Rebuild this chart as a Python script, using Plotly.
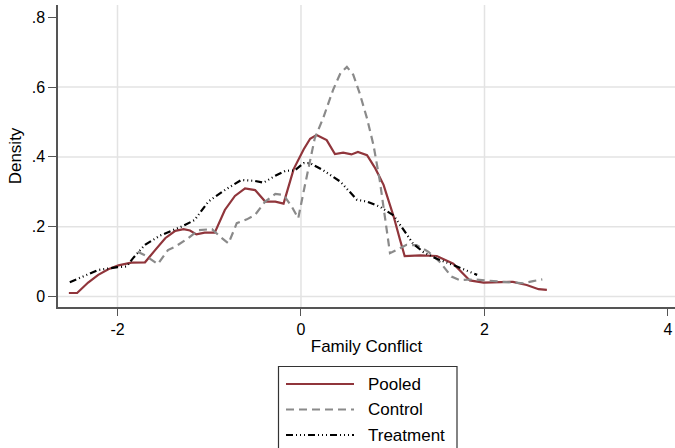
import plotly.graph_objects as go

# ---- data ----
pooled_x = [-2.53, -2.44, -2.32, -2.21, -2.10, -1.99, -1.85, -1.70, -1.59, -1.48, -1.37, -1.28,
            -1.21, -1.14, -1.05, -0.94, -0.83, -0.72, -0.61, -0.50, -0.39, -0.28, -0.19, -0.08,
            0.03, 0.10, 0.17, 0.28, 0.37, 0.46, 0.55, 0.62, 0.72, 0.81, 0.90, 1.01, 1.08, 1.13,
            1.30, 1.48, 1.66, 1.84, 1.99, 2.31, 2.46, 2.59, 2.68]
pooled_y = [0.010, 0.010, 0.040, 0.062, 0.078, 0.089, 0.097, 0.098, 0.133, 0.167, 0.188, 0.193,
            0.189, 0.178, 0.183, 0.183, 0.248, 0.288, 0.310, 0.305, 0.272, 0.272, 0.266, 0.365,
            0.422, 0.452, 0.463, 0.448, 0.408, 0.412, 0.407, 0.414, 0.405, 0.367, 0.320, 0.229,
            0.162, 0.116, 0.118, 0.116, 0.094, 0.046, 0.040, 0.042, 0.033, 0.021, 0.019]

control_x = [-1.78, -1.70, -1.56, -1.45, -1.37, -1.23, -1.12, -0.97, -0.88, -0.79, -0.70, -0.59,
             -0.50, -0.39, -0.28, -0.19, -0.10, -0.03, 0.04, 0.15, 0.24, 0.35, 0.43, 0.50, 0.57,
             0.64, 0.72, 0.79, 0.86, 0.92, 0.97, 1.04, 1.15, 1.26, 1.39, 1.51, 1.64, 1.73, 1.88,
             2.20, 2.42, 2.53, 2.63]
control_y = [0.128, 0.118, 0.093, 0.133, 0.143, 0.167, 0.190, 0.193, 0.171, 0.152, 0.210, 0.221,
             0.234, 0.272, 0.294, 0.291, 0.257, 0.224, 0.315, 0.453, 0.510, 0.592, 0.640, 0.658,
             0.635, 0.582, 0.510, 0.434, 0.330, 0.210, 0.124, 0.133, 0.148, 0.147, 0.128, 0.100,
             0.057, 0.047, 0.049, 0.042, 0.038, 0.044, 0.049]

treat_x = [-2.52, -2.34, -2.21, -2.00, -1.90, -1.83, -1.70, -1.54, -1.39, -1.28, -1.16, -1.01,
           -0.83, -0.65, -0.50, -0.41, -0.28, -0.17, -0.07, 0.03, 0.10, 0.24, 0.43, 0.61, 0.72,
           0.86, 1.01, 1.12, 1.22, 1.33, 1.48, 1.66, 1.92]
treat_y = [0.041, 0.062, 0.076, 0.084, 0.086, 0.110, 0.148, 0.174, 0.190, 0.203, 0.219, 0.272,
           0.305, 0.334, 0.331, 0.326, 0.346, 0.360, 0.361, 0.382, 0.382, 0.362, 0.329, 0.277,
           0.272, 0.257, 0.232, 0.190, 0.152, 0.128, 0.108, 0.090, 0.062]

series_names = ["Pooled", "Control", "Treatment"]
x_ticks = [-2, 0, 2, 4]
x_ticklabels = ["-2", "0", "2", "4"]
y_ticks = [0, 0.2, 0.4, 0.6, 0.8]
y_ticklabels = ["0", ".2", ".4", ".6", ".8"]

# ---- styles ----
FONT = "Liberation Sans, Arial, Helvetica, sans-serif"
RED = "rgb(144,53,59)"
GRAY = "#8a8a8a"
BLACK = "#000000"
AXIS = "#555555"
GRID = "#e3e3e3"
styles = [
    dict(color=RED, width=2.2, dash="solid"),
    dict(color=GRAY, width=2.2, dash="8px,5px"),
    dict(color=BLACK, width=2.2, dash="7px,3px,1px,3px,1px,3px,1px,3px"),
]

W, H = 675, 448
ML, MR, MT = 58, 0, 5
PW = W - ML - MR
PH = 307 - MT
MB = H - MT - PH

fig = go.Figure()
for (xs, ys), name, st in zip([(pooled_x, pooled_y), (control_x, control_y), (treat_x, treat_y)],
                              series_names, styles):
    fig.add_trace(go.Scatter(x=xs, y=ys, mode="lines", name=name, line=st,
                             showlegend=False, hoverinfo="x+y+name"))

shapes = []
# grid lines
for gx in x_ticks[:-1]:
    shapes.append(dict(type="line", xref="x", yref="paper", x0=gx, x1=gx, y0=0, y1=1,
                       line=dict(color=GRID, width=1.5), layer="below"))
for gy in y_ticks[:-1]:
    shapes.append(dict(type="line", xref="paper", yref="y", x0=0, x1=1, y0=gy, y1=gy,
                       line=dict(color=GRID, width=1.5), layer="below"))

# manual legend (page pixel -> paper helpers)
def px2x(p):
    return (p - ML) / PW

def py2y(p):
    return (MT + PH - p) / PH

shapes.append(dict(type="rect", xref="paper", yref="paper",
                   x0=px2x(278.5), x1=px2x(457), y0=py2y(470), y1=py2y(366.5),
                   line=dict(color="#333333", width=1.2), fillcolor="white"))
annotations = []
leg_rows = [384, 409.5, 435]
for name, st, ry in zip(series_names, styles, leg_rows):
    shapes.append(dict(type="line", xref="paper", yref="paper",
                       x0=px2x(286), x1=px2x(354), y0=py2y(ry), y1=py2y(ry),
                       line=dict(color=st["color"], width=st["width"], dash=st["dash"])))
    annotations.append(dict(xref="paper", yref="paper", x=px2x(366), y=py2y(ry),
                            xanchor="left", yanchor="middle", text=name, showarrow=False,
                            font=dict(family=FONT, size=17, color="black")))

fig.update_layout(
    width=W, height=H,
    margin=dict(l=ML, r=MR, t=MT, b=MB, autoexpand=False),
    paper_bgcolor="white", plot_bgcolor="white",
    font=dict(family=FONT, size=16, color="black"),
    shapes=shapes, annotations=annotations,
    showlegend=False,
)
fig.update_xaxes(range=[-2.6485, 4.0765], tickvals=x_ticks, ticktext=x_ticklabels,
                 showgrid=False, zeroline=False, showline=True, linecolor=AXIS, linewidth=1.5,
                 ticks="outside", ticklen=7, tickwidth=1.3, tickcolor=AXIS,
                 tickfont=dict(family=FONT, size=16, color="black"),
                 title=dict(text="Family Conflict", font=dict(family=FONT, size=17), standoff=3),
                 automargin=False)
fig.update_yaxes(range=[-0.0301, 0.8352], tickvals=y_ticks, ticktext=y_ticklabels,
                 showgrid=False, zeroline=False, showline=True, linecolor=AXIS, linewidth=1.5,
                 ticks="outside", ticklen=8, tickwidth=1.3, tickcolor=AXIS,
                 tickfont=dict(family=FONT, size=16, color="black"),
                 title=dict(text="Density", font=dict(family=FONT, size=17), standoff=6),
                 automargin=False)

fig.write_html("out.html",
               config={"displayModeBar": False},
               post_script="document.body.style.margin='0';document.body.style.overflow='hidden';")
